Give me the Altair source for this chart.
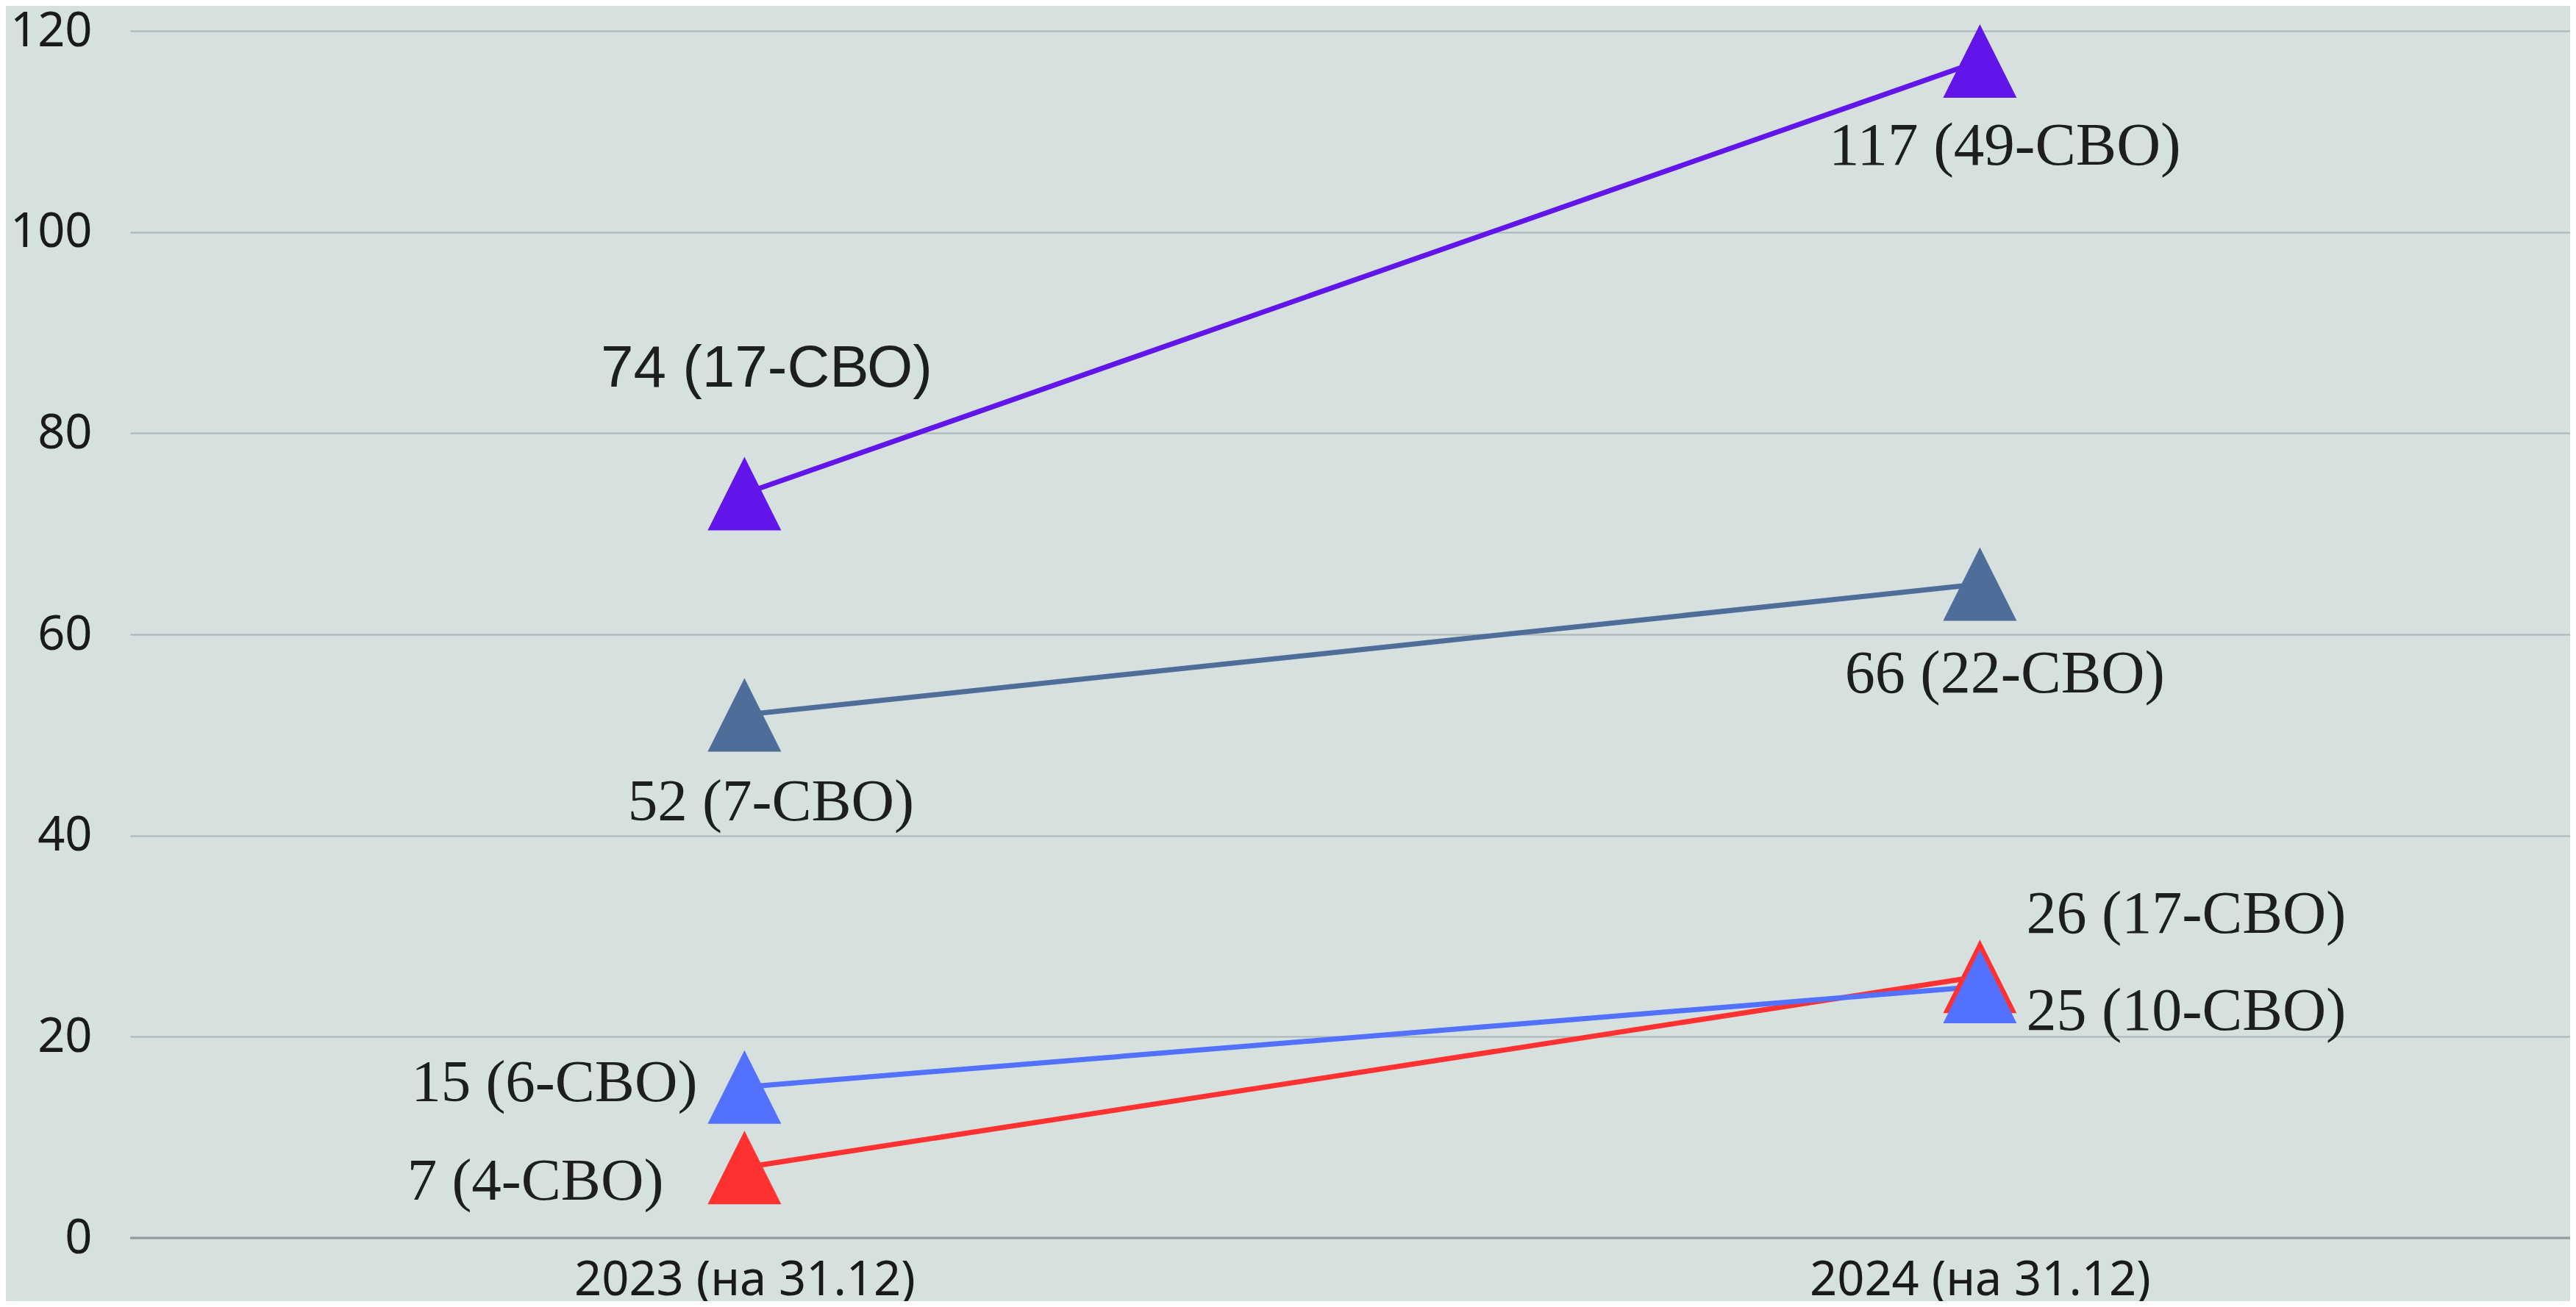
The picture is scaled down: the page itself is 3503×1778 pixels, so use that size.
import altair as alt
import pandas as pd

# ---- data ----
years = ["2023 (на 31.12)", "2024 (на 31.12)"]
series_names = ["Ряд 1", "Ряд 2", "Ряд 3", "Ряд 4"]
values_s1 = [74, 117]
values_s2 = [52, 65]
values_s3 = [7, 26]
values_s4 = [15, 25]
labels_s1 = ["74 (17-СВО)", "117 (49-СВО)"]
labels_s2 = ["52 (7-СВО)", "66 (22-СВО)"]
labels_s3 = ["7 (4-СВО)", "26 (17-СВО)"]
labels_s4 = ["15 (6-СВО)", "25 (10-СВО)"]
y_ticks = [0, 20, 40, 60, 80, 100, 120]

colors = ["#6115E9", "#4E6D99", "#FF3131", "#5271FF"]

rows = []
for name, vals, labs in zip(series_names,
                            [values_s1, values_s2, values_s3, values_s4],
                            [labels_s1, labels_s2, labels_s3, labels_s4]):
    for yr, v, lab in zip(years, vals, labs):
        rows.append({"series": name, "year": yr, "value": v, "label": lab})
df = pd.DataFrame(rows)
df["order"] = df["series"].map({n: i for i, n in enumerate(series_names)})

x_scale = alt.Scale(type="point", padding=0.4875, align=0.51)
x_enc = alt.X("year:N", sort=years, scale=x_scale,
              axis=alt.Axis(title=None, labelAngle=0, ticks=False, tickSize=0,
                            domain=False, grid=False, labelFont="Noto Sans",
                            labelFontSize=65, labelColor="#1a1a1a",
                            labelPadding=26, labelLimit=0))
y_enc = alt.Y("value:Q",
              scale=alt.Scale(domain=[0, 120], nice=False, zero=True),
              axis=alt.Axis(title=None, values=y_ticks, ticks=False, tickSize=0,
                            domain=False, grid=True, gridColor="#aab6b5",
                            gridWidth=2, labelFont="Noto Sans", labelFontSize=65,
                            labelColor="#1a1a1a", labelPadding=52))
color_enc = alt.Color("series:N", scale=alt.Scale(domain=series_names, range=colors),
                      legend=None)

base = alt.Chart(df)

zero_rule = alt.Chart(pd.DataFrame({"v": [0]})).mark_rule(
    color="#8f9a99", strokeWidth=3).encode(y=alt.Y("v:Q"))

lines = base.mark_line(strokeWidth=7).encode(
    x=x_enc, y=y_enc, color=color_enc, detail="series:N")

points = base.mark_point(shape="M-1,1L0,-1L1,1Z", size=10000, filled=True,
                         opacity=1, strokeWidth=0).encode(
    x=x_enc, y=y_enc, color=color_enc, order=alt.Order("order:Q"))

# label placement (style only)
label_style = [
    ("Ряд 1", years[0], dict(dx=30, dy=-169, align="center", font="Liberation Sans", fontSize=80)),
    ("Ряд 1", years[1], dict(dx=34, dy=116, align="center", font="Liberation Serif", fontSize=83)),
    ("Ряд 2", years[0], dict(dx=36, dy=120, align="center", font="Liberation Serif", fontSize=81)),
    ("Ряд 2", years[1], dict(dx=34, dy=122, align="center", font="Liberation Serif", fontSize=82)),
    ("Ряд 3", years[0], dict(dx=-110, dy=20, align="right", font="Liberation Serif", fontSize=81)),
    ("Ряд 3", years[1], dict(dx=63, dy=-84, align="left", font="Liberation Serif", fontSize=82)),
    ("Ряд 4", years[0], dict(dx=-64, dy=-5, align="right", font="Liberation Serif", fontSize=81)),
    ("Ряд 4", years[1], dict(dx=63, dy=34, align="left", font="Liberation Serif", fontSize=82)),
]

text_layers = []
for s, yr, st in label_style:
    t = base.transform_filter(
        (alt.datum.series == s) & (alt.datum.year == yr)
    ).mark_text(baseline="middle", color="#1c1f1e", **st).encode(
        x=alt.X("year:N", sort=years, scale=x_scale), y=alt.Y("value:Q"),
        text="label:N")
    text_layers.append(t)

chart = alt.layer(lines, zero_rule, points, *text_layers).properties(
    width=3318, height=1642,
    autosize=alt.AutoSizeParams(type="none"),
    padding={"left": 169, "top": 34, "right": 0, "bottom": 86},
    background="#d5e0df",
).configure_view(stroke=None)

chart.save("out.html", embed_options={"renderer": "svg", "actions": False})
